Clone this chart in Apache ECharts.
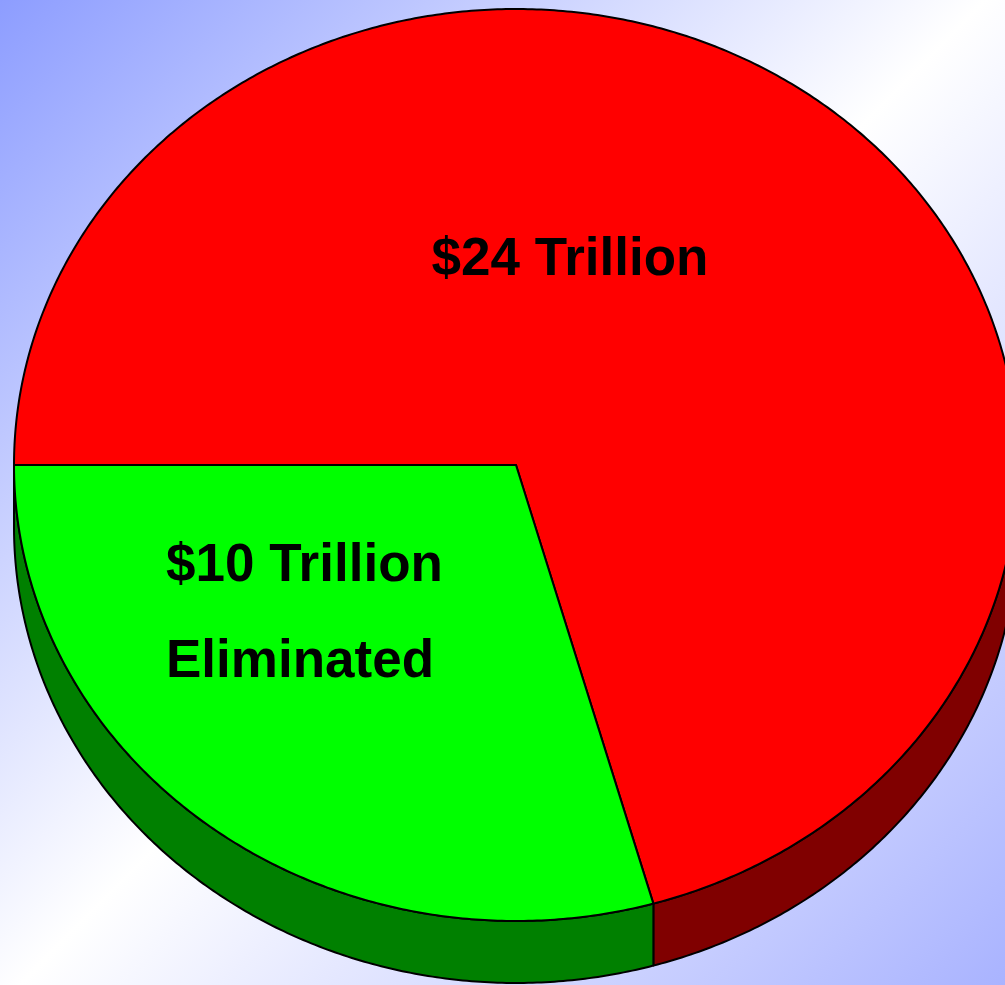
<!DOCTYPE html>
<html>
<head>
<meta charset="utf-8">
<script src="https://cdn.jsdelivr.net/npm/echarts@6/dist/echarts.min.js"></script>
<style>html,body{margin:0;padding:0;overflow:hidden}#c{width:1005px;height:985px}</style>
</head>
<body>
<div id="c"></div>
<script>
// ---- data ----
const categories = ['$24 Trillion', '$10 Trillion\nEliminated'];
const values = [24, 10];
const topColors = ['#ff0000', '#00ff00'];
const sideColors = ['#800000', '#008000'];

// ---- layout (style, not data) ----
const CX = 516, CY = 465, RX = 502, RY = 456, DEPTH = 62;
const START_DEG = 180; // parametric angle, screen y-down, clockwise
const labelLayout = [
  { x: 570, y: 260, align: 'center' },
  { x: 166, y: 614, align: 'left' }
];

const total = values.reduce((a, b) => a + b, 0);
function sliceRange(i) {
  let acc = 0;
  for (let k = 0; k < i; k++) acc += values[k];
  const a = START_DEG + acc / total * 360;
  const b = START_DEG + (acc + values[i]) / total * 360;
  return [a, b];
}
function pt(tDeg, dy) {
  const t = tDeg * Math.PI / 180;
  return [CX + RX * Math.cos(t), CY + RY * Math.sin(t) + (dy || 0)];
}
function arcPts(a, b, dy) {
  const pts = [];
  const n = Math.max(2, Math.ceil(Math.abs(b - a) / 0.5));
  for (let k = 0; k <= n; k++) pts.push(pt(a + (b - a) * k / n, dy));
  return pts;
}

const chart = echarts.init(document.getElementById('c'), null, { renderer: 'canvas' });
chart.setOption({
  backgroundColor: {
    type: 'linear', x: 0, y: 0, x2: 1, y2: 1,
    colorStops: [
      { offset: 0, color: '#8d9dff' },
      { offset: 0.5, color: '#ffffff' },
      { offset: 1, color: '#a9b3ff' }
    ]
  },
  animation: false,
  series: [
    {
      type: 'custom',
      coordinateSystem: 'none',
      data: values.map(v => [v]),
      z: 1,
      renderItem: function (params, api) {
        const i = params.dataIndex;
        const [a, b] = sliceRange(i);
        const children = [];
        for (let base = 0; base <= 720; base += 360) {
          const lo = Math.max(a, base), hi = Math.min(b, base + 180);
          if (hi > lo) {
            const topEdge = arcPts(lo, hi, 0);
            const botEdge = arcPts(hi, lo, DEPTH);
            children.push({
              type: 'polygon',
              shape: { points: topEdge.concat(botEdge) },
              style: { fill: sideColors[i], stroke: '#000', lineWidth: 2, lineJoin: 'round' }
            });
          }
        }
        return { type: 'group', children: children };
      }
    },
    {
      type: 'custom',
      coordinateSystem: 'none',
      data: values.map(v => [v]),
      z: 2,
      renderItem: function (params, api) {
        const i = params.dataIndex;
        const [a, b] = sliceRange(i);
        const pts = [[CX, CY]].concat(arcPts(a, b, 0));
        const L = labelLayout[i];
        return {
          type: 'group',
          children: [
            {
              type: 'polygon',
              shape: { points: pts },
              style: { fill: topColors[i], stroke: '#000', lineWidth: 2, lineJoin: 'round' }
            },
            {
              type: 'text',
              z2: 10,
              style: {
                text: categories[i],
                x: L.x, y: L.y,
                align: L.align,
                verticalAlign: 'middle',
                fill: '#000',
                fontSize: 53,
                fontWeight: 'bold',
                fontFamily: '"Liberation Sans", Arial, sans-serif',
                lineHeight: 96
              }
            }
          ]
        };
      }
    }
  ]
});
</script>
</body>
</html>
